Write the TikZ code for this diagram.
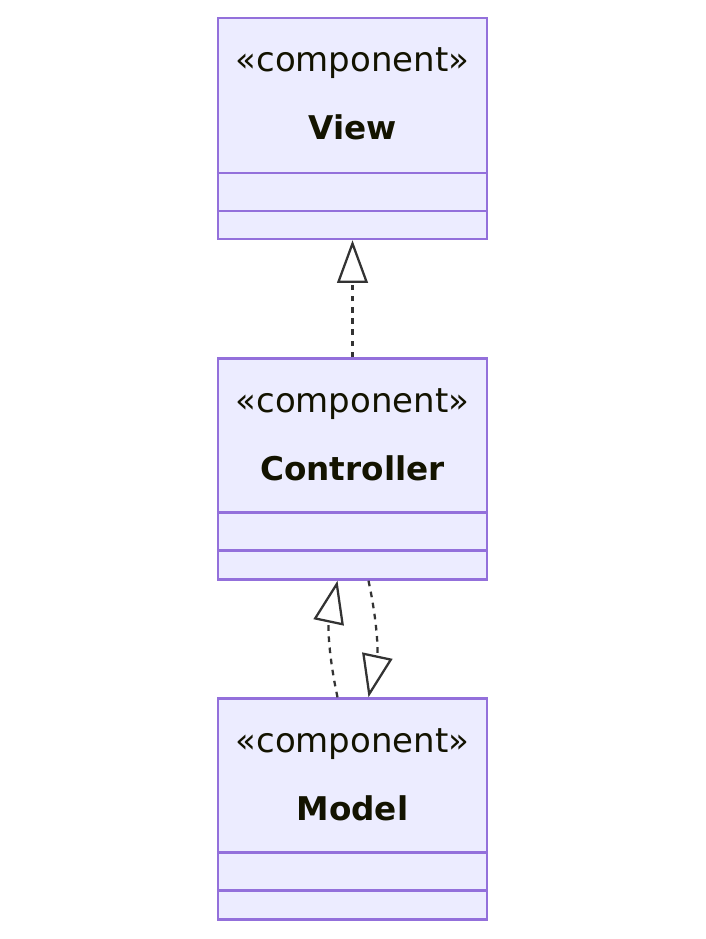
\documentclass[tikz,border=0pt]{standalone}
\usepackage{fontspec}
\setmainfont{DejaVu Sans}
\usetikzlibrary{arrows.meta,calc}
\definecolor{boxline}{HTML}{9370DB}
\definecolor{boxfill}{HTML}{ECECFF}
\definecolor{boxtext}{HTML}{131300}
\definecolor{edgegray}{HTML}{333333}

\begin{document}
\begin{tikzpicture}[
    x=0.75pt, y=-0.75pt,
    font=\rmfamily,
    line width=1.5pt,
    classbox/.style={draw=boxline, fill=boxfill, line width=1.8pt,
                     minimum width=269*0.75pt, minimum height=221*0.75pt,
                     inner sep=0pt},
    stereo/.style={text=boxtext, inner sep=0pt,
                   font=\rmfamily\fontsize{25.5}{30}\selectfont},
    cname/.style={text=boxtext, inner sep=0pt,
                  font=\rmfamily\bfseries\fontsize{24.5}{30}\selectfont},
    divider/.style={draw=boxline, line width=1.8pt},
    realize/.style={draw=edgegray, line width=1.7pt,
                    dash pattern=on 4.2pt off 4.2pt,
                    -{Triangle[open, length=32pt, width=23pt, line width=1.7pt]}},
  ]
  \useasboundingbox (0,0) rectangle (706,939);

  % Class boxes.
  \node[classbox] (view) at (352.5,128.5) {};
  \node[classbox] (ctrl) at (352.5,469) {};
  \node[classbox] (model) at (352.5,809) {};

  % Compartment lines.
  \draw[divider] ($(view.north west)+(0,156)$) -- ($(view.north east)+(0,156)$);
  \draw[divider] ($(view.north west)+(0,194)$) -- ($(view.north east)+(0,194)$);
  \draw[divider] ($(ctrl.north west)+(0,155)$) -- ($(ctrl.north east)+(0,155)$);
  \draw[divider] ($(ctrl.north west)+(0,193)$) -- ($(ctrl.north east)+(0,193)$);
  \draw[divider] ($(model.north west)+(0,155)$) -- ($(model.north east)+(0,155)$);
  \draw[divider] ($(model.north west)+(0,193)$) -- ($(model.north east)+(0,193)$);

  % Labels.
  \node[stereo] (viewst) at (352.5,63) {«component»};
  \node[cname] (viewname) at (352.5,127) {View};
  \node[stereo] (ctrlst) at (352.5,404) {«component»};
  \node[cname] (ctrlname) at (352.5,468) {Controller};
  \node[stereo] (modelst) at (352.5,744) {«component»};
  \node[cname] (modelname) at (352.5,808) {Model};

  % Dependencies.
  \draw[realize] (ctrl.north) -- (view.south);
  \draw[realize] ($(model.north)+(-15,0)$) to[bend left=12] ($(ctrl.south)+(-15,0)$);
  \draw[realize] ($(ctrl.south)+(16,0)$) to[bend left=12] ($(model.north)+(16,0)$);
\end{tikzpicture}
\end{document}
